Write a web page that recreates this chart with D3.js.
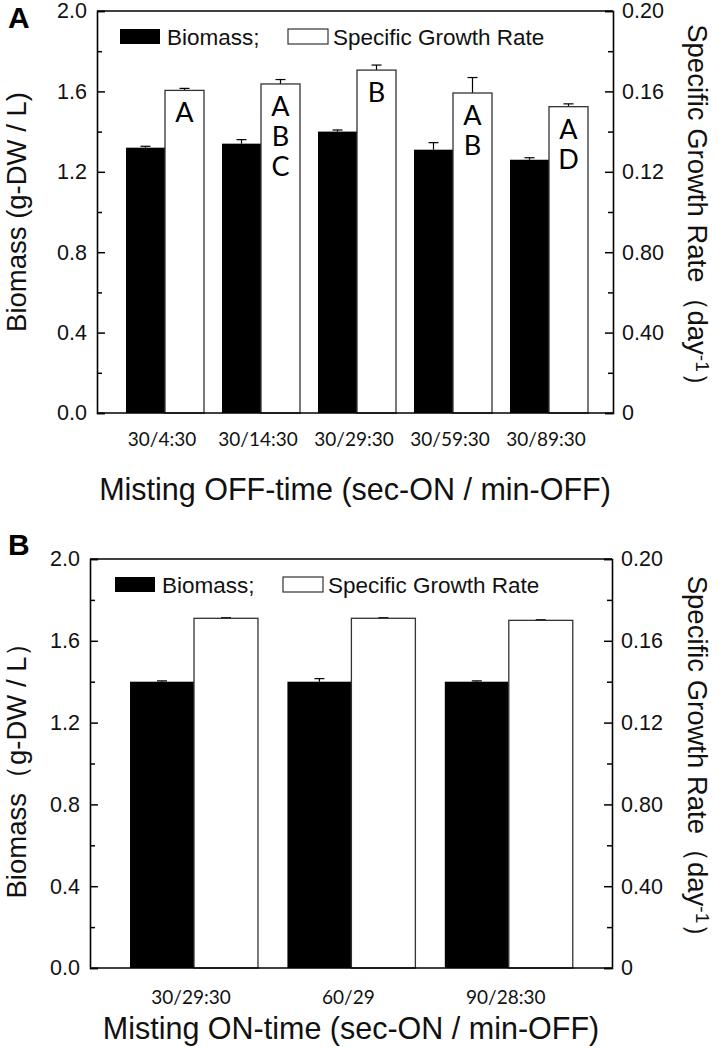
<!DOCTYPE html>
<html><head><meta charset="utf-8">
<script src="https://cdn.jsdelivr.net/npm/d3@7"></script>
<style>body{margin:0;background:#fff}svg{display:block}</style>
</head><body>
<svg id="c" width="719" height="1050"></svg>
<script>
// ---- data ----
const catsA = ["30/4:30","30/14:30","30/29:30","30/59:30","30/89:30"];
const biomassA = [1.32, 1.34, 1.40, 1.31, 1.26];
const biomassErrA = [0.007, 0.02, 0.008, 0.035, 0.01];
const sgrA = [0.1605, 0.1637, 0.1706, 0.1592, 0.1524];
const sgrErrA = [0.001, 0.0022, 0.0025, 0.0077, 0.0014];
const lettersA = [["A"], ["A","B","C"], ["B"], ["A","B"], ["A","D"]];

const catsB = ["30/29:30","60/29","90/28:30"];
const biomassB = [1.40, 1.40, 1.40];
const biomassErrB = [0.004, 0.015, 0.004];
const sgrB = [0.171, 0.171, 0.170];
const sgrErrB = [0.0003, 0.0003, 0.0003];
const lettersB = [[], [], []];

const leftTicks = [0, 0.4, 0.8, 1.2, 1.6, 2.0];
const leftTickLabels = ["0.0","0.4","0.8","1.2","1.6","2.0"];
const leftMinor = [0.2, 0.6, 1.0, 1.4, 1.8];
const rightTicks = [0, 0.04, 0.08, 0.12, 0.16, 0.20];
const rightTickLabels = ["0","0.40","0.80","0.12","0.16","0.20"];
const rightMinor = [0.02, 0.06, 0.10, 0.14, 0.18];
const seriesNames = ["Biomass;", "Specific Growth Rate"];

const svg = d3.select("#c");
const AX = "Liberation Sans, Arial, sans-serif";
const TK = "Lato, 'Open Sans', sans-serif";

function panel(o) {
  const g = svg.append("g");
  const y = d3.scaleLinear().domain([0, 2.0]).range([o.bottom, o.top]);
  const y2 = d3.scaleLinear().domain([0, 0.20]).range([o.bottom, o.top]);
  const x = d3.scaleBand().domain(o.cats).range(o.xr).paddingInner(o.pi).paddingOuter(o.pi / 2);
  const xs = d3.scaleBand().domain(["bio","sgr"]).range([0, x.bandwidth()]);

  const rows = o.cats.map((c, i) => ({c, b: o.bio[i], be: o.bioErr[i], s: o.sgr[i], se: o.sgrErr[i], L: o.letters[i]}));

  // error bars (upper only)
  const cap = o.cap;
  rows.forEach(d => {
    const cxB = x(d.c) + xs("bio") + xs.bandwidth() / 2;
    const cxS = x(d.c) + xs("sgr") + xs.bandwidth() / 2;
    g.append("line").attr("x1", cxB).attr("x2", cxB).attr("y1", y(d.b)).attr("y2", y(d.b + d.be)).attr("stroke", "#000").attr("stroke-width", 1.2);
    g.append("line").attr("x1", cxB - cap).attr("x2", cxB + cap).attr("y1", y(d.b + d.be)).attr("y2", y(d.b + d.be)).attr("stroke", "#000").attr("stroke-width", 1.2);
    g.append("line").attr("x1", cxS).attr("x2", cxS).attr("y1", y2(d.s)).attr("y2", y2(d.s + d.se)).attr("stroke", "#000").attr("stroke-width", 1.2);
    g.append("line").attr("x1", cxS - cap).attr("x2", cxS + cap).attr("y1", y2(d.s + d.se)).attr("y2", y2(d.s + d.se)).attr("stroke", "#000").attr("stroke-width", 1.2);
  });

  g.selectAll(".bb").data(rows).join("rect")
    .attr("x", d => x(d.c) + xs("bio")).attr("width", xs.bandwidth())
    .attr("y", d => y(d.b)).attr("height", d => y(0) - y(d.b))
    .attr("fill", "#000");
  g.selectAll(".sb").data(rows).join("rect")
    .attr("x", d => x(d.c) + xs("sgr")).attr("width", xs.bandwidth())
    .attr("y", d => y2(d.s)).attr("height", d => y2(0) - y2(d.s))
    .attr("fill", "#fff").attr("stroke", "#333").attr("stroke-width", 1.3);

  // letters
  rows.forEach(d => {
    const cx = x(d.c) + xs("sgr") + xs.bandwidth() / 2;
    d.L.forEach((t, k) => {
      g.append("text").attr("x", cx).attr("y", y2(d.s) + 32 + k * 30)
        .attr("text-anchor", "middle").attr("font-family", TK).attr("font-size", 27).text(t);
    });
  });

  // frame lines
  g.append("line").attr("x1", o.xl).attr("x2", o.xr2).attr("y1", o.top).attr("y2", o.top).attr("stroke", "#000").attr("stroke-width", 1.6);
  g.append("line").attr("x1", o.xl).attr("x2", o.xr2).attr("y1", o.bottom).attr("y2", o.bottom).attr("stroke", "#000").attr("stroke-width", 1.6);

  // left axis
  const la = g.append("g").attr("transform", `translate(${o.xl},0)`)
    .call(d3.axisLeft(y).tickValues(leftTicks).tickSize(-8).tickPadding(10).tickFormat((d, i) => leftTickLabels[i]));
  la.select(".domain").attr("stroke-width", 1.6);
  la.selectAll("line").attr("stroke-width", 1.5);
  la.selectAll("text").attr("font-family", AX).attr("font-size", 21.5).attr("fill", "#111");
  const lm = g.append("g").attr("transform", `translate(${o.xl},0)`)
    .call(d3.axisLeft(y).tickValues(leftMinor).tickSize(-5).tickFormat(""));
  lm.select(".domain").remove();
  lm.selectAll("line").attr("stroke-width", 1.5);

  // right axis
  const ra = g.append("g").attr("transform", `translate(${o.xr2},0)`)
    .call(d3.axisRight(y2).tickValues(rightTicks).tickSize(-8).tickPadding(9).tickFormat((d, i) => rightTickLabels[i]));
  ra.select(".domain").attr("stroke-width", 1.6);
  ra.selectAll("line").attr("stroke-width", 1.5);
  ra.selectAll("text").attr("font-family", AX).attr("font-size", 21.5).attr("fill", "#111");
  const rm = g.append("g").attr("transform", `translate(${o.xr2},0)`)
    .call(d3.axisRight(y2).tickValues(rightMinor).tickSize(-5).tickFormat(""));
  rm.select(".domain").remove();
  rm.selectAll("line").attr("stroke-width", 1.5);

  // x tick labels
  g.selectAll(".xl").data(o.cats).join("text")
    .attr("x", d => x(d) + x.bandwidth() / 2 - 3).attr("y", o.bottom + o.tickOff)
    .attr("text-anchor", "middle").attr("font-family", TK).attr("font-size", 19).attr("fill", "#111").text(d => d);

  // legend
  const lx = o.xl + o.legOff, ly = o.top + 18;
  g.append("rect").attr("x", lx).attr("y", ly).attr("width", 40).attr("height", 15).attr("fill", "#000");
  g.append("text").attr("x", lx + 47).attr("y", ly + 16).attr("font-family", AX).attr("font-size", 22.5).attr("fill", "#111").text(seriesNames[0]);
  g.append("rect").attr("x", lx + 168).attr("y", ly).attr("width", 40).attr("height", 15).attr("fill", "#fff").attr("stroke", "#333").attr("stroke-width", 1.2);
  g.append("text").attr("x", lx + 213).attr("y", ly + 16).attr("font-family", AX).attr("font-size", 22.5).attr("fill", "#111").text(seriesNames[1]);

  // titles
  g.append("text").attr("x", (o.xl + o.xr2) / 2).attr("y", o.bottom + o.titleOff)
    .attr("text-anchor", "middle").attr("font-family", AX).attr("font-size", 30.5).attr("fill", "#111").text(o.xTitle);
  g.append("text").attr("transform", `translate(26,${(o.top + o.bottom) / 2}) rotate(-90)`)
    .attr("text-anchor", "middle").attr("font-family", AX).attr("font-size", 27.5).attr("fill", "#111").text(o.yTitle);
  const rt = g.append("text").attr("transform", `translate(688,${(o.top + o.bottom) / 2}) rotate(90)`)
    .attr("text-anchor", "middle").attr("font-family", AX).attr("font-size", 27.5).attr("fill", "#111");
  rt.append("tspan").text("Specific Growth Rate\uFF08day");
  rt.append("tspan").attr("dy", -8).attr("font-size", 19).text("-1");
  rt.append("tspan").attr("dy", 8).text("\uFF09");

  // panel letter
  svg.append("text").attr("x", 8).attr("y", o.top + o.plOff).attr("font-family", AX).attr("font-weight", "bold").attr("font-size", 30).text(o.panel);
}

panel({panel: "A", plOff: 17, cats: catsA, bio: biomassA, bioErr: biomassErrA, sgr: sgrA, sgrErr: sgrErrA, letters: lettersA,
  top: 11, bottom: 413, xl: 97, xr2: 613, xr: [117, 597], pi: 0.1875, cap: 5, tickOff: 33, titleOff: 87, legOff: 23,
  xTitle: "Misting OFF-time (sec-ON / min-OFF)", yTitle: "Biomass (g-DW / L)"});
panel({panel: "B", plOff: -4, cats: catsB, bio: biomassB, bioErr: biomassErrB, sgr: sgrB, sgrErr: sgrErrB, letters: lettersB,
  top: 559, bottom: 968, xl: 90, xr2: 612, xr: [115.3, 587.5], pi: 0.187, cap: 5, tickOff: 36, titleOff: 71, legOff: 25,
  xTitle: "Misting ON-time (sec-ON / min-OFF)", yTitle: "Biomass\uFF08g-DW / L\uFF09"});
</script>
</body></html>
